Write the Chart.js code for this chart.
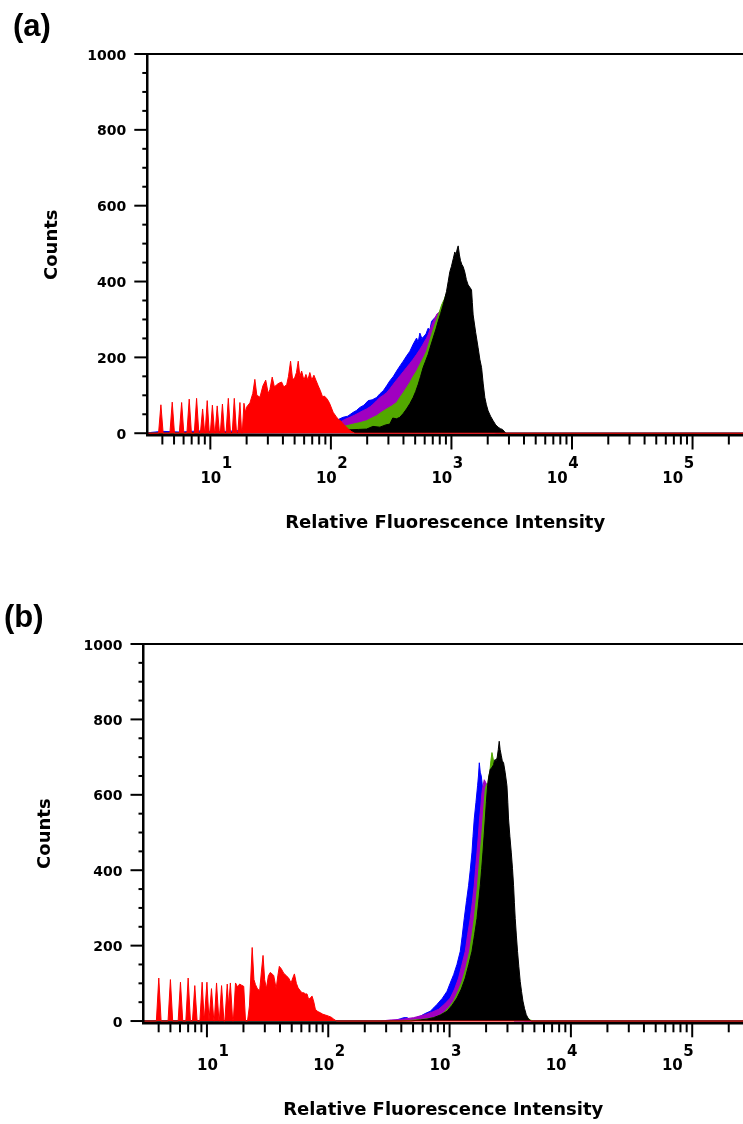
<!DOCTYPE html>
<html><head><meta charset="utf-8">
<script src="https://cdn.jsdelivr.net/npm/chart.js@4.4.0/dist/chart.umd.min.js"></script>
<style>
html,body{margin:0;padding:0;background:#fff;}
#wrap{position:relative;width:743px;height:1124px;overflow:hidden;background:#fff;}
#ca{position:absolute;left:0;top:0;}
#cb{position:absolute;left:0;top:590px;}
</style></head><body>
<div id="wrap"><canvas id="ca" width="743" height="560"></canvas><canvas id="cb" width="743" height="534"></canvas></div>
<script>
// ---------- axis ticks ----------
const xTickValues = [4,5,6,7,8,9,10,20,30,40,50,60,70,80,90,100,200,300,400,500,600,700,800,900,
  1000,2000,3000,4000,5000,6000,7000,8000,9000,10000,20000,30000,40000,50000,60000,70000,80000,90000,100000,200000];
const xMajorValues = [10,100,1000,10000,100000];
const xExponents = ['1','2','3','4','5'];
const yTickValues = [0,50,100,150,200,250,300,350,400,450,500,550,600,650,700,750,800,850,900,950,1000];
const yLabelValues = [0,200,400,600,800,1000];

// ---------- panel (a) series: [fluorescence, counts] ----------
const redA = [[3,0],
 [3.72,0],[3.89,75],[4.06,0],[4.62,0],[4.83,82],[5.04,0],[5.53,0],[5.78,81],[6.03,0],
 [6.39,0],[6.68,90],[6.97,0],[7.36,0],[7.69,92],[8.03,0],[8.27,0],[8.63,64],[8.98,0],
 [9.05,0],[9.42,86],[9.8,0],[10.0,0],[10.4,74],[10.85,0],[10.95,0],[11.4,72],[11.9,0],
 [12.1,0],[12.6,77],[13.1,0],[13.5,0],[14.1,92],[14.7,0],[15.2,0],[15.8,92],[16.5,0],
 [16.9,0],[17.6,81],[18.2,0],[18.4,0],[19.0,79],[19.6,55],
 [20.1,70],[21.3,80],[22.5,105],[23.4,142],[24.3,100],[25.8,95],[27.3,125],[28.8,140],[30.2,105],
 [31.2,115],[32.6,148],[34.0,122],[35.5,128],[37.1,132],[39.0,135],[40.7,122],[43.0,128],[44.5,150],
 [46.3,190],[48.0,145],[49.6,142],[51.8,160],[53.6,190],[55.3,150],[57.2,164],[59.7,140],[62.1,155],
 [64.4,140],[66.9,160],[69.5,140],[72.3,153],[75.1,140],[78.5,125],[81.8,112],[85.3,96],[88.3,98],
 [92.1,92],[95.3,85],[98.1,77],[104.5,55],[110,45],[115,37],[121,32],[126,25],[133,18],[141,10],
 [149,4],[158,0],[262144,0]];
const blueA = [[3,0],[3.2,2],[4,5],[5.6,3],[8,6],[12,4],[18,7],[26,5],[35,8],[46,7],[55,12],[63,16],
 [72,20],[81,24],[92,28],[105,33],[115,36],[126,42],[138,45],[153,55],[163,60],[174,68],[188,74],
 [204,86],[220,88],[239,94],[255,104],[272,112],[290,125],[308,138],[330,150],[351,164],[375,178],
 [398,190],[425,204],[452,216],[482,235],[514,251],[530,240],[547,264],[568,250],[590,255],[615,262],
 [641,277],[662,272],[684,295],[730,305],[774,310],[840,315],[902,310],[1000,295],[1091,280],[1200,240],
 [1321,180],[1450,120],[1592,70],[1800,30],[2004,10],[2333,0],[262144,0]];
const purpleA = [[3,0],[5,2],[8.2,3],[15,3],[25.8,4],[40,6],[55,8],[63,12],[71,16],[81,18],[92,20],
 [105,25],[119,29],[130,36],[144,42],[158,48],[174,55],[186,60],[198,64],[212,70],[225,77],[240,86],
 [255,94],[272,100],[290,107],[310,118],[329,129],[350,140],[373,151],[398,162],[424,173],[452,184],
 [481,195],[514,208],[547,221],[575,232],[601,243],[620,250],[641,260],[672,278],[705,295],[760,315],
 [802,320],[870,328],[933,330],[1030,318],[1130,300],[1250,260],[1367,200],[1500,130],[1656,80],
 [1850,35],[2080,10],[2421,0],[262144,0]];
const greenA = [[3,0],[20,2],[50,5],[81,11],[100,13],[119,16],[136,20],[153,24],[175,28],[198,33],
 [218,40],[239,46],[262,55],[290,64],[320,72],[351,81],[375,95],[398,107],[424,120],[452,134],[482,150],
 [514,164],[540,178],[565,190],[592,202],[621,216],[652,238],[684,260],[717,280],[752,299],[790,318],
 [828,338],[868,352],[910,369],[960,385],[1007,390],[1090,390],[1172,380],[1260,350],[1367,300],
 [1480,220],[1592,150],[1740,85],[1893,40],[2100,15],[2291,5],[2518,0],[262144,0]];
const blackA = [[3,0],[60,2],[81,5],[104,8],[144,9],[170,10],[198,11],[223,18],[255,16],[285,22],
 [308,24],[326,40],[350,38],[373,42],[398,52],[424,64],[452,78],[481,94],[505,110],[530,129],[555,150],
 [582,173],[610,190],[641,208],[672,230],[705,251],[740,272],[776,295],[814,316],[853,338],[880,355],
 [910,374],[940,400],[970,426],[1000,440],[1035,460],[1067,478],[1090,470],[1115,485],[1137,494],
 [1165,470],[1190,455],[1220,445],[1251,439],[1290,425],[1330,405],[1376,391],[1420,385],[1468,378],
 [1490,345],[1514,312],[1590,265],[1665,225],[1720,195],[1778,173],[1835,130],[1893,94],[1950,75],
 [2015,59],[2110,45],[2218,33],[2330,22],[2439,16],[2550,12],[2652,10],[2826,0],[262144,0]];

// ---------- panel (b) series ----------
const redB = [[3,0],
 [3.83,0],[4.01,114],[4.19,0],[4.78,0],[5.0,110],[5.22,0],[5.79,0],[6.05,103],[6.32,0],
 [6.7,0],[7.0,114],[7.31,0],[7.6,0],[7.94,94],[8.3,0],[8.75,0],[9.13,103],[9.5,0],
 [9.58,0],[10.0,103],[10.4,0],[10.5,0],[10.9,86],[11.4,0],[11.5,0],[12.0,101],[12.55,0],
 [12.65,0],[13.2,94],[13.8,0],[14.05,0],[14.7,98],[15.1,40],[15.6,101],[16.3,0],
 [16.5,0],[17.2,101],[17.9,90],[18.6,98],[19.3,95],[20.1,92],[20.8,0],[21.6,0],
 [22.4,40],[23.6,195],[24.4,110],[25.1,97],[26.1,85],[27.2,81],[28.1,130],[29.0,174],[29.9,110],
 [30.9,86],[32.1,120],[33.3,129],[34.4,125],[35.5,121],[37.2,86],[38.4,120],[39.5,145],[41.1,138],
 [42.9,127],[45.2,120],[47.2,114],[49.4,101],[51.1,115],[52.6,125],[54.6,100],[56.4,88],[58.9,80],
 [60.8,75],[62.9,75],[64.7,72],[66.8,72],[69.0,57],[71.3,62],[73.6,66],[76.1,50],[78.3,31],[82.1,25],
 [86.1,22],[90.3,18],[94.6,16],[100.7,13],[106,10],[111,5],[117,0],[262144,0]];
const blueB = [[3,0],[300,0],[357,2],[393,6],[420,9],[446,9],[475,4],[502,5],[540,10],[574,13],
 [630,20],[693,26],[740,35],[787,44],[870,60],[953,79],[1010,100],[1080,123],[1150,150],[1225,185],
 [1270,225],[1321,272],[1380,320],[1435,360],[1480,400],[1530,448],[1560,490],[1597,536],[1650,580],
 [1701,624],[1730,650],[1758,685],[1790,660],[1825,650],[1900,600],[1969,560],[2150,420],[2400,250],
 [2700,100],[3050,30],[3400,0],[262144,0]];
const purpleB = [[3,0],[269,0],[330,3],[393,4],[505,9],[630,17],[720,24],[812,31],[910,45],[1014,61],
 [1100,85],[1186,114],[1265,150],[1347,185],[1410,230],[1481,272],[1540,315],[1597,360],[1640,405],
 [1683,448],[1725,490],[1767,536],[1810,570],[1849,606],[1890,625],[1932,640],[2081,620],[2336,520],
 [2616,380],[2930,220],[3280,90],[3680,20],[4120,0],[262144,0]];
const greenB = [[3,0],[393,0],[480,2],[574,4],[650,6],[735,9],[810,14],[893,22],[980,35],[1080,53],
 [1170,78],[1265,105],[1360,140],[1462,185],[1530,228],[1597,272],[1650,315],[1701,360],[1745,405],
 [1792,448],[1840,490],[1885,536],[1925,575],[1969,615],[2010,625],[2066,632],[2105,650],[2145,660],
 [2190,690],[2235,712],[2336,680],[2616,600],[2931,420],[3280,220],[3679,80],[4124,15],[4615,3],
 [4900,0],[262144,0]];
const blackB = [[3,0],[480,0],[574,3],[650,5],[738,9],[840,16],[953,26],[1050,42],[1151,61],[1250,85],
 [1347,114],[1440,150],[1530,185],[1610,230],[1683,272],[1740,318],[1792,360],[1840,405],[1885,448],
 [1925,490],[1969,536],[2010,580],[2057,624],[2110,650],[2164,668],[2230,672],[2305,680],[2340,690],
 [2379,694],[2420,690],[2471,700],[2520,720],[2565,742],[2610,720],[2665,705],[2720,690],[2786,685],
 [2870,660],[2971,624],[3020,580],[3062,536],[3140,490],[3223,448],[3300,405],[3368,360],[3420,315],
 [3476,272],[3550,228],[3631,185],[3720,145],[3821,105],[3920,78],[4023,53],[4150,33],[4285,17],
 [4475,5],[4711,0],[262144,0]];

const colors = {red:'#ff0000', black:'#000000', green:'#52a800', purple:'#a000c0', blue:'#0000ff'};
const boldFont = '"DejaVu Sans", "Liberation Sans", Arial, sans-serif';

function ds(label, data, color) {
  return {label, data, borderColor: color, backgroundColor: color, borderWidth: 1,
          fill: 'origin', pointRadius: 0, tension: 0};
}

const axisDecor = {
  id: 'axisDecor',
  afterDraw(chart) {
    const {ctx, chartArea, scales} = chart;
    const xs = scales.x, ys = scales.y;
    ctx.save();
    ctx.strokeStyle = '#000';
    ctx.lineWidth = 2;
    ctx.beginPath(); ctx.moveTo(chartArea.left, chartArea.top); ctx.lineTo(chartArea.right, chartArea.top); ctx.stroke();
    ys.ticks.forEach(t => {
      const py = ys.getPixelForValue(t.value);
      const len = yLabelValues.includes(t.value) ? 13 : 5;
      ctx.beginPath(); ctx.moveTo(chartArea.left - len, py); ctx.lineTo(chartArea.left, py); ctx.stroke();
    });
    xs.ticks.forEach(t => {
      const px = xs.getPixelForValue(t.value);
      const len = xMajorValues.includes(t.value) ? 14 : 9;
      ctx.beginPath(); ctx.moveTo(px, chartArea.bottom); ctx.lineTo(px, chartArea.bottom + len); ctx.stroke();
    });
    // decade labels: the original places them on a slightly tighter pitch than the ticks
    ctx.fillStyle = '#000';
    ctx.font = 'bold 15px ' + boldFont;
    ctx.textBaseline = 'alphabetic';
    const p1 = xs.getPixelForValue(xMajorValues[0]);
    xMajorValues.forEach((v, i) => {
      const pk = xs.getPixelForValue(v);
      const centre = p1 + 0.958 * (pk - p1) + 5;
      const base = centre - 4.5;
      ctx.textAlign = 'center';
      ctx.fillText('10', base, chartArea.bottom + 47);
      ctx.textAlign = 'left';
      ctx.fillText(xExponents[i], base + 11, chartArea.bottom + 32.5);
    });
    ctx.restore();
  }
};

function build(id, panel, series, L) {
  return new Chart(document.getElementById(id), {
    type: 'line',
    data: {datasets: series},
    options: {
      responsive: false, animation: false, events: [],
      layout: {padding: {left: L.padLeft, top: 0, right: 0, bottom: 0}},
      plugins: {
        legend: {display: false}, tooltip: {enabled: false},
        title: {display: true, text: panel, align: 'start', color: '#000',
          font: {family: '"Liberation Sans", Arial, sans-serif', size: 31, weight: 'bold'},
          padding: {top: L.titleTop, bottom: 54 - L.titleTop - 37.2}}
      },
      scales: {
        x: {type: 'logarithmic', position: 'bottom', min: 3, max: 262144, bounds: 'data',
          afterBuildTicks: s => { s.ticks = xTickValues.map(v => ({value: v})); },
          afterFit: s => { s.height = L.xHeight; },
          ticks: {autoSkip: false, maxRotation: 0, minRotation: 0, callback: () => ''},
          grid: {display: true, drawOnChartArea: false, drawTicks: false},
          border: {display: true, color: '#000', width: 2.5, z: 1},
          title: {display: true, text: 'Relative Fluorescence Intensity', color: '#000',
            font: {family: boldFont, size: 18, weight: 'bold'}, padding: {top: 0, bottom: L.xTitleBottom}}
        },
        y: {type: 'linear', position: 'left', min: -6, max: 1000, bounds: 'data',
          afterBuildTicks: s => { s.ticks = yTickValues.map(v => ({value: v})); },
          afterFit: s => { s.width = L.yWidth; },
          ticks: {autoSkip: false, padding: 8, labelOffset: 2, color: '#000',
            font: {family: boldFont, size: 14, weight: 'bold'},
            callback: v => yLabelValues.includes(v) ? String(v) : ''},
          grid: {display: true, drawOnChartArea: false, drawTicks: true, tickLength: 13, tickColor: 'rgba(0,0,0,0)'},
          border: {display: true, color: '#000', width: 2.5, z: 1},
          title: {display: true, text: 'Counts', color: '#000',
            font: {family: boldFont, size: 18, weight: 'bold'}, padding: {top: L.yTitleTop, bottom: 0}}
        }
      }
    },
    plugins: [axisDecor]
  });
}

build('ca', '(a)', [
  ds('Control', redA, colors.red),
  ds('Sample 4', blackA, colors.black),
  ds('Sample 3', greenA, colors.green),
  ds('Sample 2', purpleA, colors.purple),
  ds('Sample 1', blueA, colors.blue)
], {padLeft: 13, yWidth: 134.3, titleTop: 9, xHeight: 124.5, xTitleBottom: 25.7, yTitleTop: 28.2});

build('cb', '(b)', [
  ds('Control', redB, colors.red),
  ds('Sample 4', blackB, colors.black),
  ds('Sample 3', greenB, colors.green),
  ds('Sample 2', purpleB, colors.purple),
  ds('Sample 1', blueB, colors.blue)
], {padLeft: 4, yWidth: 139.5, titleTop: 9.4, xHeight: 100.7, xTitleBottom: 2.7, yTitleTop: 30.2});
</script>
</body></html>
